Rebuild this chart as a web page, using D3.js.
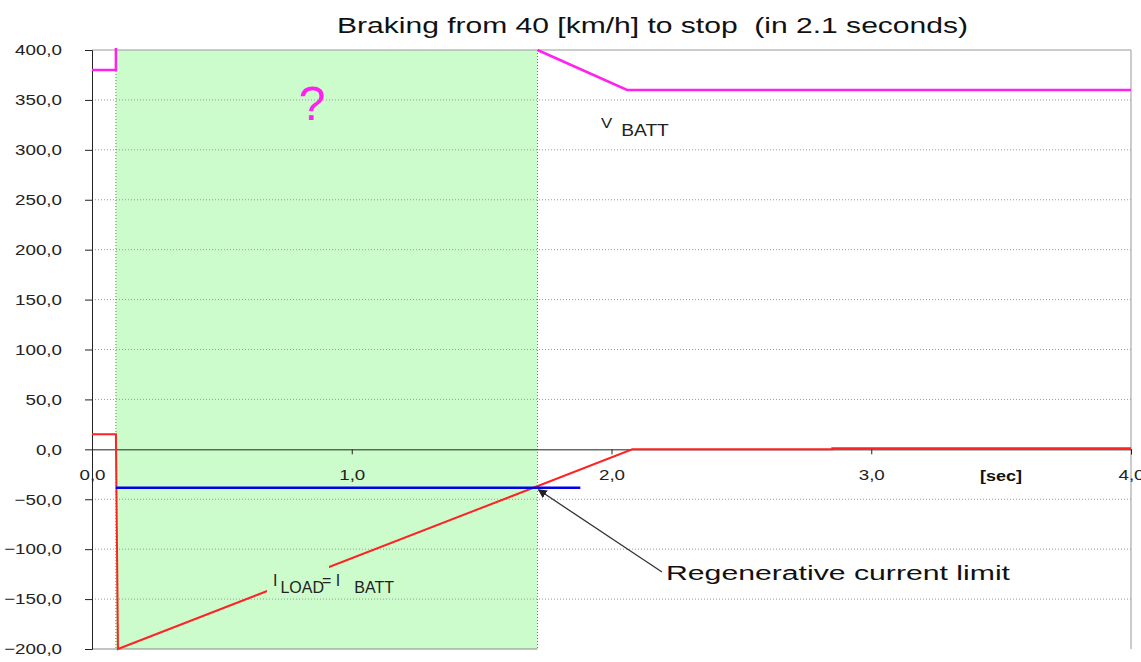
<!DOCTYPE html>
<html>
<head>
<meta charset="utf-8">
<script src="https://cdn.jsdelivr.net/npm/d3@7"></script>
<style>
body { margin:0; background:#fff; }
text { font-family: "Liberation Sans", Arial, sans-serif; }
</style>
</head>
<body>
<svg id="chart"></svg>
<script>
// data
var yTicks = [400, 350, 300, 250, 200, 150, 100, 50, 0, -50, -100, -150, -200]
var xTicks = [0, 1, 2, 3, 4]
var greenZone = [0.092, 1.715]

var vbattA = [[0, 380], [0.092, 380], [0.092, 402]]
var vbattB = [[1.715, 400], [2.06, 360], [4.0, 360]]
var iload = [[0, 15], [0.092, 15], [0.1, -200], [2.08, 0], [2.85, 0], [2.85, 1], [4.0, 1]]
var currentLimit = [[0.092, -38.5], [1.88, -38.5]]

var fmt = function(v) { return d3.format(".1f")(v).replace(".", ",") }

// the original picture is wider than tall, so text gets stretched sideways
var stretch = function(sel, k)
{
    sel.each(function() {
        var w = this.getComputedTextLength()
        d3.select(this).attr("textLength", w * k).attr("lengthAdjust", "spacingAndGlyphs")
    })
}

var screen = {width:1141, height:662}
var svg = d3.select("#chart").attr("width", screen.width).attr("height", screen.height)

var xScale = d3.scaleLinear().domain([0, 4]).range([92, 1131])
var yScale = d3.scaleLinear().domain([-200, 400]).range([649, 50])

// green band
svg.append("rect")
    .attr("x", xScale(greenZone[0]))
    .attr("y", yScale(400))
    .attr("width", xScale(greenZone[1]) - xScale(greenZone[0]))
    .attr("height", yScale(-200) - yScale(400))
    .attr("fill", "#ccfccc")

// dotted grid
svg.append("g").selectAll("line")
    .data(yTicks.filter(function(d){ return d != 0 && d != 400 && d != -200 }))
    .enter().append("line")
    .attr("x1", xScale(0)).attr("x2", xScale(4))
    .attr("y1", function(d){ return yScale(d) }).attr("y2", function(d){ return yScale(d) })
    .attr("stroke", "#999").attr("stroke-dasharray", "1,2")
svg.append("g").selectAll("line")
    .data(greenZone)
    .enter().append("line")
    .attr("x1", function(d){ return xScale(d) }).attr("x2", function(d){ return xScale(d) })
    .attr("y1", yScale(400)).attr("y2", yScale(-200))
    .attr("stroke", "#777").attr("stroke-dasharray", "1,2")

// frame top / right / bottom
svg.append("path")
    .attr("d", "M" + xScale(0) + "," + yScale(400) + "H" + xScale(4) + "V" + yScale(-200))
    .attr("fill", "none").attr("stroke", "#999")
svg.append("line")
    .attr("x1", xScale(0)).attr("x2", xScale(greenZone[1]))
    .attr("y1", yScale(-200)).attr("y2", yScale(-200))
    .attr("stroke", "#888")

// y axis
var yAxis = d3.axisLeft(yScale).tickValues(yTicks).tickFormat(fmt).tickSize(7).tickPadding(23)
var gy = svg.append("g").attr("transform", "translate(" + xScale(0) + ",0)").call(yAxis)
gy.select(".domain").attr("stroke", "#222")
gy.selectAll(".tick line").attr("stroke", "#222")
gy.selectAll("text").attr("font-size", 15).attr("fill", "#222")
    .attr("font-family", "'Liberation Sans', Arial, sans-serif")
stretch(gy.selectAll("text"), 1.25)

// x axis at zero
var xAxis = d3.axisBottom(xScale).tickValues(xTicks).tickFormat(fmt).tickSize(5).tickPadding(15)
var gx = svg.append("g").attr("transform", "translate(0," + yScale(0) + ")").call(xAxis)
gx.select(".domain").attr("stroke", "#222")
gx.selectAll(".tick line").attr("stroke", "#222")
gx.selectAll("text").attr("font-size", 15).attr("fill", "#222")
    .attr("font-family", "'Liberation Sans', Arial, sans-serif")
stretch(gx.selectAll("text"), 1.25)
var sec = svg.append("text").text("[sec]")
    .attr("x", 980).attr("y", 481)
    .attr("font-size", 15).attr("font-weight", "bold").attr("fill", "#111")
stretch(sec, 1.2)

var line = d3.line().x(function(d){ return xScale(d[0]) }).y(function(d){ return yScale(d[1]) })

// series
svg.append("path").datum(vbattA).attr("d", line)
    .attr("fill", "none").attr("stroke", "#ff22ee").attr("stroke-width", 2.5)
svg.append("path").datum(vbattB).attr("d", line)
    .attr("fill", "none").attr("stroke", "#ff22ee").attr("stroke-width", 2.5)
svg.append("path").datum(iload).attr("d", line)
    .attr("fill", "none").attr("stroke", "#ff2222").attr("stroke-width", 2)
svg.append("path").datum(currentLimit).attr("d", line)
    .attr("fill", "none").attr("stroke", "#0000ee").attr("stroke-width", 2.5)

// labels
var title = svg.append("text").text("Braking from 40 [km/h] to stop  (in 2.1 seconds)")
    .attr("x", 337).attr("y", 33)
    .attr("font-size", 22).attr("fill", "#111").style("white-space", "pre")
    .attr("textLength", 631).attr("lengthAdjust", "spacingAndGlyphs")

svg.append("text").text("?")
    .attr("x", 312).attr("y", 120).attr("text-anchor", "middle")
    .attr("font-size", 48).attr("fill", "#ff22ee")

var vb = svg.append("text").attr("x", 601).attr("y", 136).attr("font-size", 16).attr("fill", "#222")
vb.append("tspan").text("V").attr("font-size", 14).attr("dy", -8)
vb.append("tspan").text("BATT").attr("dx", 9).attr("dy", 8)
stretch(vb.selectAll("tspan"), 1.2)

svg.append("rect").attr("x", 267).attr("y", 563).attr("width", 62).attr("height", 33).attr("fill", "#ccfccc")
var il = svg.append("text").attr("x", 273).attr("y", 593).attr("font-size", 16).attr("fill", "#222")
il.append("tspan").text("I").attr("dy", -7)
il.append("tspan").text("LOAD").attr("dx", 3).attr("dy", 7)
il.append("tspan").text("= I").attr("dx", -2).attr("dy", -7)
il.append("tspan").text("BATT").attr("dx", 14).attr("dy", 7)

// arrow
svg.append("defs").append("marker")
    .attr("id", "arr").attr("viewBox", "0 0 10 10").attr("refX", 9).attr("refY", 5)
    .attr("markerWidth", 7).attr("markerHeight", 7).attr("orient", "auto")
    .append("path").attr("d", "M0,0L10,5L0,10z").attr("fill", "#222")
svg.append("line")
    .attr("x1", 662).attr("y1", 572)
    .attr("x2", xScale(1.715) + 1).attr("y2", yScale(-38.5) + 2)
    .attr("stroke", "#333").attr("stroke-width", 1.3).attr("marker-end", "url(#arr)")
svg.append("text").text("Regenerative current limit")
    .attr("x", 666).attr("y", 580).attr("font-size", 20).attr("fill", "#111")
    .attr("textLength", 344).attr("lengthAdjust", "spacingAndGlyphs")
</script>
</body>
</html>
